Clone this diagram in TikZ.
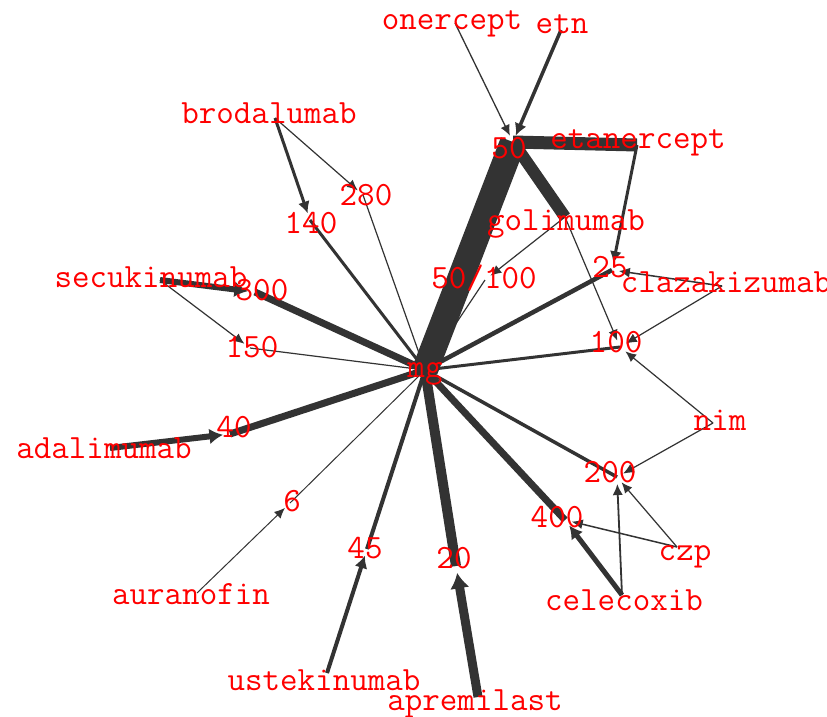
\documentclass[tikz,border=0pt]{standalone}
\usepackage{fontspec}
\usetikzlibrary{arrows.meta}
\definecolor{edgecol}{RGB}{51,51,51}
\definecolor{labred}{RGB}{255,0,0}
\begin{document}
\begin{tikzpicture}[x=1pt,y=-1pt,
  lnk/.style={draw=edgecol},
  darrow/.style={draw=edgecol,-{Latex[length=10pt 0.6,width=8pt 1.3]},shorten >=7pt},
  lab/.style={text=labred,font=\ttfamily\fontsize{34}{34}\selectfont,inner sep=0pt,anchor=base}]
\fill[white] (0,0) rectangle (827,716);
\useasboundingbox (0,0) rectangle (827,716);
% node points
\coordinate (p-onercept) at (455,23);
\coordinate (p-etn) at (561,30);
\coordinate (p-50) at (513,142);
\coordinate (p-etanercept) at (637,145);
\coordinate (p-golimumab) at (565,217);
\coordinate (p-5100) at (485,280);
\coordinate (p-25) at (612,270);
\coordinate (p-claz) at (722,286);
\coordinate (p-100) at (620,347);
\coordinate (p-mg) at (425,370);
\coordinate (p-nim) at (713,423);
\coordinate (p-200) at (617,477);
\coordinate (p-400) at (565,520);
\coordinate (p-czp) at (677,547);
\coordinate (p-celecoxib) at (622,595);
\coordinate (p-20) at (456,566);
\coordinate (p-apremilast) at (478,697);
\coordinate (p-45) at (367,549);
\coordinate (p-ustek) at (327,673);
\coordinate (p-6) at (290,503);
\coordinate (p-auranofin) at (197,593);
\coordinate (p-40) at (230,434);
\coordinate (p-adalim) at (110,448);
\coordinate (p-300) at (255,292);
\coordinate (p-secuk) at (160,280);
\coordinate (p-150) at (250,348);
\coordinate (p-brodal) at (275,118);
\coordinate (p-140) at (310,220);
\coordinate (p-280) at (363,195);
% edges to mg
\draw[lnk,line width=26pt] (p-50) -- (p-mg);
\draw[lnk,line width=1.2pt] (p-5100) -- (p-mg);
\draw[lnk,line width=4.5pt] (p-25) -- (p-mg);
\draw[lnk,line width=3pt] (p-100) -- (p-mg);
\draw[lnk,line width=3.5pt] (p-200) -- (p-mg);
\draw[lnk,line width=7pt] (p-400) -- (p-mg);
\draw[lnk,line width=10pt] (p-20) -- (p-mg);
\draw[lnk,line width=4pt] (p-45) -- (p-mg);
\draw[lnk,line width=1pt] (p-6) -- (p-mg);
\draw[lnk,line width=7pt] (p-40) -- (p-mg);
\draw[lnk,line width=1.2pt] (p-150) -- (p-mg);
\draw[lnk,line width=7pt] (p-300) -- (p-mg);
\draw[lnk,line width=3pt] (p-140) -- (p-mg);
\draw[lnk,line width=1.2pt] (p-280) -- (p-mg);
% drug to dose edges
\draw[darrow,line width=1.3pt] (p-onercept) -- (p-50);
\draw[darrow,line width=3.5pt] (p-etn) -- (p-50);
\draw[lnk,line width=13pt] (p-etanercept) -- (p-50);
\draw[lnk,line width=12pt] (p-golimumab) -- (p-50);
\draw[darrow,line width=3pt] (p-etanercept) -- (p-25);
\draw[darrow,line width=1.5pt] (p-claz) -- (p-25);
\draw[darrow,line width=1.2pt] (p-claz) -- (p-100);
\draw[darrow,line width=1.2pt] (p-golimumab) -- (p-100);
\draw[darrow,line width=1.2pt] (p-golimumab) -- (p-5100);
\draw[darrow,line width=1.2pt] (p-nim) -- (p-100);
\draw[darrow,line width=1.2pt] (p-nim) -- (p-200);
\draw[darrow,line width=1.2pt] (p-czp) -- (p-200);
\draw[darrow,line width=1.5pt] (p-czp) -- (p-400);
\draw[darrow,line width=1.8pt] (p-celecoxib) -- (p-200);
\draw[darrow,line width=5pt] (p-celecoxib) -- (p-400);
\draw[darrow,line width=9pt] (p-apremilast) -- (p-20);
\draw[darrow,line width=4pt] (p-ustek) -- (p-45);
\draw[darrow,line width=1pt] (p-auranofin) -- (p-6);
\draw[darrow,line width=6pt] (p-adalim) -- (p-40);
\draw[darrow,line width=1.2pt] (p-secuk) -- (p-150);
\draw[darrow,line width=6pt] (p-secuk) -- (p-300);
\draw[darrow,line width=3pt] (p-brodal) -- (p-140);
\draw[darrow,line width=1.2pt] (p-brodal) -- (p-280);
% labels
\node[lab] (onercept) at (452,29) {onercept};
\node[lab] (etn) at (562,33) {etn};
\node[lab] (d50) at (509,158) {50};
\node[lab] (etanercept) at (638,148) {etanercept};
\node[lab] (golimumab) at (566,230) {golimumab};
\node[lab] (d5100) at (484,288) {50/100};
\node[lab] (d25) at (610,277) {25};
\node[lab] (clazakizumab) at (726,292) {clazakizumab};
\node[lab] (d100) at (616,352) {100};
\node[lab] (mg) at (425,377) {mg};
\node[lab] (nim) at (720,430) {nim};
\node[lab] (d200) at (610,482) {200};
\node[lab] (d400) at (557,527) {400};
\node[lab] (czp) at (685,560) {czp};
\node[lab] (d20) at (454,568) {20};
\node[lab] (celecoxib) at (624,610) {celecoxib};
\node[lab] (apremilast) at (475,710) {apremilast};
\node[lab] (adalimumab) at (104,458) {adalimumab};
\node[lab] (d40) at (234,437) {40};
\node[lab] (d6) at (292,511) {6};
\node[lab] (d45) at (365,558) {45};
\node[lab] (auranofin) at (191,604) {auranofin};
\node[lab] (ustekinumab) at (324,690) {ustekinumab};
\node[lab] (brodalumab) at (269,123) {brodalumab};
\node[lab] (d280) at (366,205) {280};
\node[lab] (d140) at (311,233) {140};
\node[lab] (secukinumab) at (151,287) {secukinumab};
\node[lab] (d300) at (262,300) {300};
\node[lab] (d150) at (252,357) {150};
\end{tikzpicture}
\end{document}
